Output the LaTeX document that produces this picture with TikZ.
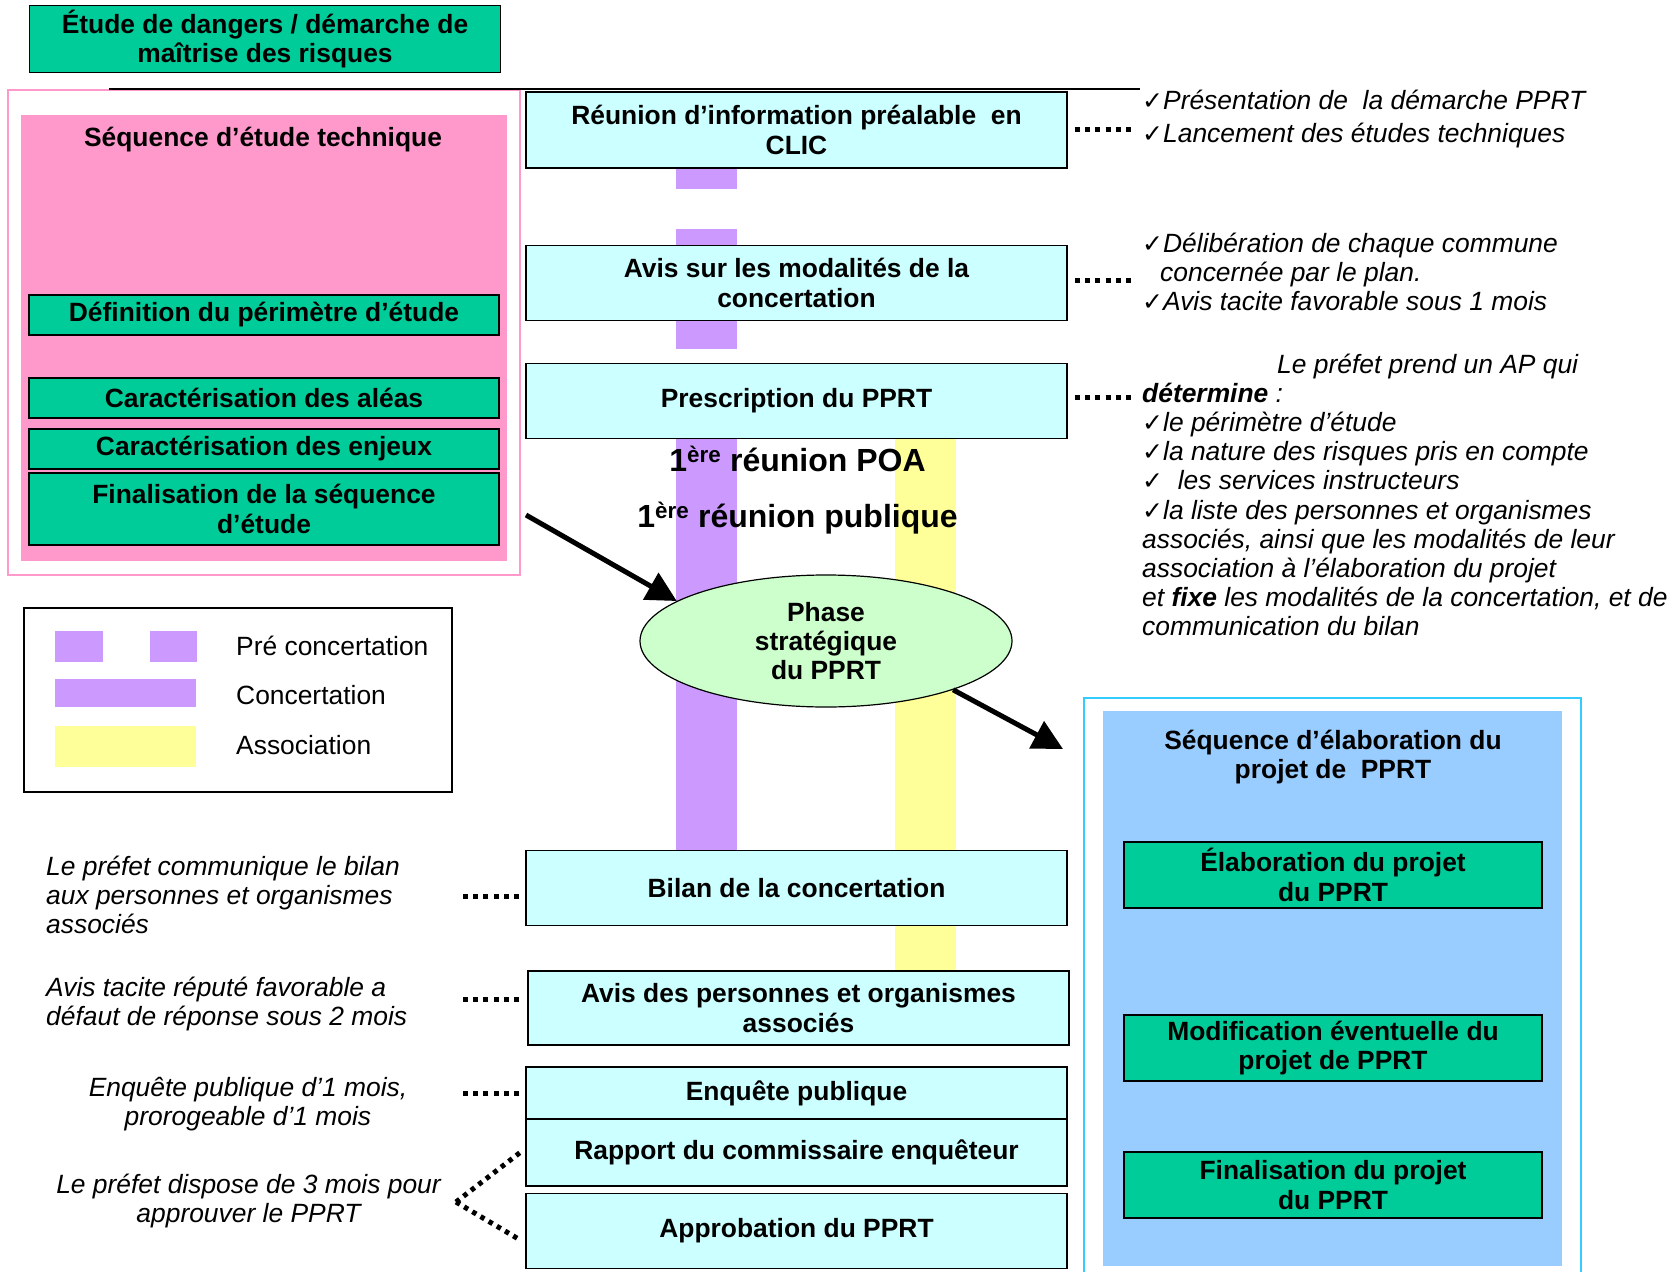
\documentclass[tikz,border=0pt]{standalone}
\usepackage{fontspec}
\setmainfont{Liberation Sans}
\newfontfamily\checkfont{DejaVu Sans}
\usetikzlibrary{shapes.geometric}
\usetikzlibrary{arrows.meta}
\tikzset{>={Triangle[width=30pt,length=30pt]}}
\definecolor{vertbloc}{HTML}{00CC99}
\definecolor{rosebloc}{HTML}{FF99CC}
\definecolor{cyanbloc}{HTML}{CCFFFF}
\definecolor{violetbarre}{HTML}{CC99FF}
\definecolor{jaunebarre}{HTML}{FFFF99}
\definecolor{vertphase}{HTML}{CCFFCC}
\definecolor{bleubloc}{HTML}{99CCFF}
\definecolor{bleucadre}{HTML}{33CCFF}
\newcommand{\corps}{\fontsize{26.4}{29.2}\selectfont}
\newcommand{\grand}{\fontsize{32}{36}\selectfont}
\newcommand{\ok}{{\checkfont\upshape\fontsize{25}{25}\selectfont ✓}}
\tikzset{
    etape/.style={draw=black, line width=1.5pt, fill=cyanbloc, minimum width=541pt, inner sep=0pt, align=center, font=\corps\bfseries},
    tache/.style={draw=black, line width=1.5pt, fill=vertbloc, inner sep=0pt, align=center, font=\corps\bfseries},
    titre/.style={inner sep=0pt, align=center, font=\corps\bfseries},
    annot/.style={inner sep=0pt, font=\corps\itshape},
    legtexte/.style={inner sep=0pt, anchor=west, font=\corps},
    pointille/.style={line width=5pt, dash pattern=on 5pt off 5.3pt},
    pointillefin/.style={line width=5pt, dash pattern=on 4.5pt off 5pt}
}

\begin{document}
\begin{tikzpicture}[x=1pt, y=-1pt]
    \useasboundingbox (0,0) rectangle (1675,1271);
    \draw[rosebloc, line width=1.5pt] (8,90) rectangle (520,575);
    \fill[rosebloc] (21,115) rectangle (507,561);
    \draw[bleucadre, line width=1.5pt] (1084,698) rectangle (1581,1290);
    \fill[bleubloc] (1103,711) rectangle (1562,1266);
    \fill[violetbarre] (676,168) rectangle (737,189);
    \fill[violetbarre] (676,229) rectangle (737,349);
    \fill[violetbarre] (676,438) rectangle (737,851);
    \fill[jaunebarre] (895,438) rectangle (956,971);
    \draw[line width=1.5pt] (109,89) -- (1140,89);

    \node[tache, minimum width=471pt, minimum height=67pt] (dangers) at (265,39) {Étude de dangers / démarche de\\maîtrise des risques};
    \node[titre] (seqetude) at (263,140) {Séquence d’étude technique};
    \node[tache, minimum width=470pt, minimum height=40pt] (perimetre) at (264,315) {Définition du périmètre d’étude};
    \node[tache, minimum width=470pt, minimum height=40pt] (aleas) at (264,398) {Caractérisation des aléas};
    \node[tache, minimum width=470pt, minimum height=40pt] (enjeux) at (264,449) {Caractérisation des enjeux};
    \node[tache, minimum width=470pt, minimum height=72pt] (finseq) at (264,509) {Finalisation de la séquence\\d’étude};

    \node[etape, minimum height=76pt] (reunion) at (796.5,130) {Réunion d’information préalable~ en\\CLIC};
    \node[etape, minimum height=75pt] (avismod) at (796.5,283) {Avis sur les modalités de la\\concertation};
    \node[etape, minimum height=75pt] (prescription) at (796.5,401) {Prescription du PPRT};
    \node[titre, font=\grand\bfseries] (poa) at (797.5,459) {1\textsuperscript{ère} réunion POA};
    \node[titre, font=\grand\bfseries] (publique) at (797.5,518) {1\textsuperscript{ère} réunion publique};
    \node[ellipse, draw, line width=1.2pt, fill=vertphase, minimum width=372pt, minimum height=132pt, inner sep=0pt, align=center, font=\corps\bfseries] (phase) at (826,641) {Phase\\stratégique\\du PPRT};
    \node[etape, minimum height=75pt] (bilan) at (796.5,888) {Bilan de la concertation};
    \node[etape, minimum height=74pt] (avispoa) at (798.5,1008) {Avis des personnes et organismes\\associés};
    \node[etape, minimum height=52pt] (enquete) at (796.5,1093) {Enquête publique};
    \node[etape, minimum height=67pt] (rapport) at (796.5,1152.5) {Rapport du commissaire enquêteur};
    \node[etape, minimum height=75pt] (approbation) at (796.5,1231) {Approbation du PPRT};

    \node[titre] (seqprojet) at (1333,757) {Séquence d’élaboration du\\projet de~ PPRT};
    \node[tache, minimum width=418pt, minimum height=66pt] (elaboration) at (1333,875) {Élaboration du projet\\du PPRT};
    \node[tache, minimum width=418pt, minimum height=66pt] (modification) at (1333,1048) {Modification éventuelle du\\projet de PPRT};
    \node[tache, minimum width=418pt, minimum height=66pt] (finprojet) at (1333,1185) {Finalisation du projet\\du PPRT};

    \node[draw, line width=1.2pt, minimum width=428pt, minimum height=184pt] (legende) at (238,700) {};
    \fill[violetbarre] (55,631) rectangle (103,662);
    \fill[violetbarre] (150,631) rectangle (197,662);
    \fill[violetbarre] (55,679) rectangle (196,707);
    \fill[jaunebarre] (55,726) rectangle (196,767);
    \node[legtexte] (lpre) at (236,646) {Pré concertation};
    \node[legtexte] (lconc) at (236,695) {Concertation};
    \node[legtexte] (lassoc) at (236,745) {Association};

    \node[annot, anchor=west, align=left] (notereunion) at (1142,119) {\ok Présentation de~ la démarche PPRT\\[3pt]\ok Lancement des études techniques};
    \node[annot, anchor=west, align=left] (noteavismod) at (1142,272) {\ok Délibération de chaque commune\\\hspace*{18pt}concernée par le plan.\\\ok Avis tacite favorable sous 1 mois};
    \node[annot, anchor=west, align=left] (noteprescr) at (1142,495) {\hspace*{135pt}Le préfet prend un AP qui\\\textbf{détermine} :\\\ok le périmètre d’étude\\\ok la nature des risques pris en compte\\\ok~ les services instructeurs\\\ok la liste des personnes et organismes\\associés, ainsi que les modalités de leur\\association à l’élaboration du projet\\et \textbf{fixe} les modalités de la concertation, et de\\communication du bilan};

    \node[annot, anchor=west, align=left] (notebilan) at (46,895) {Le préfet communique le bilan\\aux personnes et organismes\\associés};
    \node[annot, anchor=west, align=left] (noteavis) at (46,1004) {Avis tacite réputé favorable a\\défaut de réponse sous 2 mois};
    \node[annot, align=center] (noteenquete) at (248,1104) {Enquête publique d’1 mois,\\prorogeable d’1 mois};
    \node[annot, align=center] (noteprefet) at (248.5,1201) {Le préfet dispose de 3 mois pour\\approuver le PPRT};

    \coordinate (depart) at (526,515);
    \coordinate (arrivee) at (1063,749);
    \coordinate (bordg) at (459,0);
    \coordinate (fourche) at (456,1202);
    \draw[->, line width=5pt] (depart) -- (phase.165);
    \draw[->, line width=5pt] (phase.-21) -- (arrivee);
    \draw[pointille, shorten <=7pt, shorten >=6pt] (reunion.east) -- (reunion.east -| notereunion.west);
    \draw[pointille, shorten <=7pt, shorten >=6pt] ([yshift=3pt]avismod.east) -- ([yshift=3pt]avismod.east -| noteavismod.west);
    \draw[pointille, shorten <=7pt, shorten >=6pt] ([yshift=4pt]prescription.east) -- ([yshift=4pt]prescription.east -| noteprescr.west);
    \draw[pointille, shorten <=6pt] ([yshift=-8pt]bilan.west) -- ([yshift=-8pt]bilan.west -| bordg);
    \draw[pointille, shorten <=8pt] ([yshift=9pt]avispoa.west) -- ([yshift=9pt]avispoa.west -| bordg);
    \draw[pointille, shorten <=6pt] (enquete.west) -- (enquete.west -| bordg);
    \draw[pointillefin, shorten >=5pt] (fourche) -- ([yshift=4pt]rapport.west);
    \draw[pointillefin, shorten >=5pt] (fourche) -- ([yshift=-12pt]approbation.west);
\end{tikzpicture}
\end{document}
